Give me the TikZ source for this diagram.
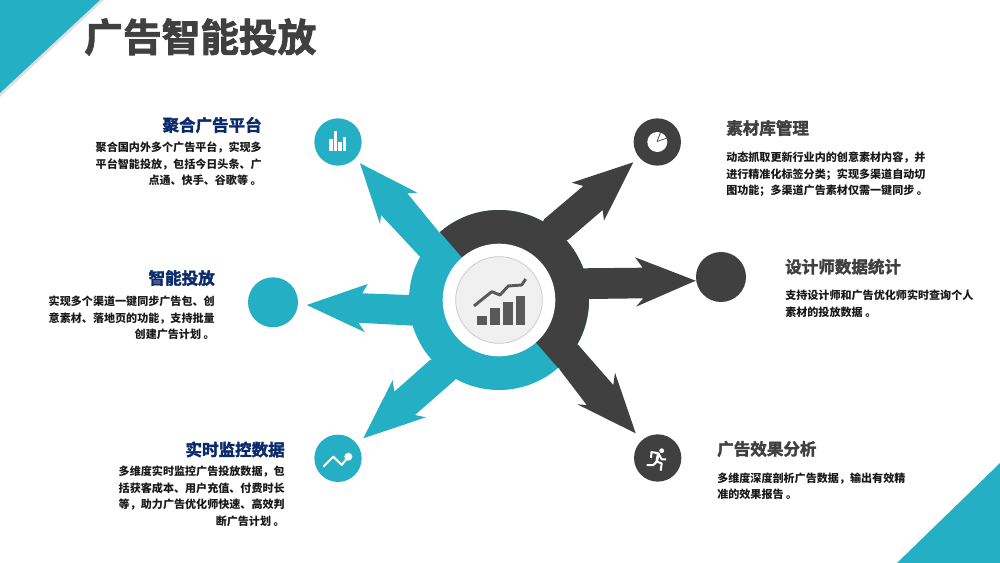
\documentclass[tikz,border=0pt]{standalone}
\usepackage{fontspec}
\newfontfamily\cjk{Noto Sans CJK SC}
\newfontfamily\cjkbold[FakeBold=2.2]{Noto Sans CJK SC Bold}
\usetikzlibrary{positioning}
\definecolor{adteal}{HTML}{25AFC5}
\definecolor{addark}{HTML}{404040}
\definecolor{adnavy}{HTML}{0B2A6B}
\tikzset{
    badge/.style={circle,minimum size=35.5pt,inner sep=0pt},
    blockhead/.style={inner sep=0pt,font=\cjkbold\fontsize{12.4}{14}\selectfont},
    blocktext/.style={inner sep=0pt,text=black!90,font=\cjk\bfseries\fontsize{8.3}{12.5}\selectfont},
    iconline/.style={white,line width=1.5pt,line join=round}
}
\begin{document}
\begin{tikzpicture}[x=0.75pt,y=-0.75pt]
    \useasboundingbox (0,0) rectangle (1000,563);
    \fill[black!12] (0,0) -- (104,0) -- (0,97) -- cycle;
    \fill[adteal] (0,0) -- (100,0) -- (0,93) -- cycle;
    \fill[adteal] (897,563) -- (1000,463) -- (1000,563) -- cycle;
    \node[right,inner sep=0pt,text=addark,font=\cjkbold\fontsize{29}{32}\selectfont] (title) at (84,37) {广告智能投放};

    \coordinate (hub) at (499,300);
    \fill[adteal] (hub) circle [radius=90];
    \begin{scope}
        \clip (420.3,209.4) -- (420,150) -- (700,150) -- (700,391) -- (577.7,390.6) -- cycle;
        \fill[addark] (hub) circle [radius=90];
    \end{scope}

    \fill[adteal] (360,163.3) -- (417.3,192.7) -- (407.3,193.3) -- (440,233.3) -- (470,300) -- (420,256.7) -- (381,215) -- (380,224) -- cycle;
    \fill[adteal] (306.7,305) -- (367.7,284) -- (362.3,293.3) -- (409.3,295) -- (440,310) -- (413.3,325.7) -- (358.3,322.7) -- (365,332.3) -- cycle;
    \fill[adteal] (363.3,438.3) -- (392.7,380) -- (394.3,391.7) -- (430,360) -- (470,350) -- (455,380) -- (415,415) -- (426,417.3) -- cycle;
    \fill[addark] (633.3,162.3) -- (571.7,182.7) -- (583.3,186) -- (544,219.3) -- (530,260) -- (568.7,239.3) -- (602.7,210) -- (604,220.7) -- cycle;
    \fill[addark] (695.7,280.7) -- (635,257.3) -- (642.7,267.7) -- (583.5,268.3) -- (560,285) -- (588.7,299) -- (643.3,298.3) -- (636,306.7) -- cycle;
    \fill[addark] (635.7,433.3) -- (615,372.7) -- (613.3,385) -- (578.3,345) -- (530,320) -- (560,370) -- (586.7,405) -- (577.3,404.3) -- cycle;

    \node[circle,fill=white,minimum size=84.5pt,inner sep=0pt] (hubwhite) at (hub) {};
    \node[circle,draw=black!20,fill=black!6,line width=0.6pt,minimum size=65pt,inner sep=0pt] (hubdisc) at (hub) {};
    \fill[black!65] (477.3,315.7) rectangle (487,325);
    \fill[black!65] (490,308.3) rectangle (500,325);
    \fill[black!65] (503.3,302.3) rectangle (513,325);
    \fill[black!65] (516,295.7) rectangle (525.3,325);
    \draw[black!65,line width=2.2pt,line join=round] (474,306) -- (491.7,291.7) -- (500,295) -- (508.3,286) -- (521.7,285) -- (525.7,279);

    \node[badge,fill=adteal] (platform) at (338,142) {};
    \node[badge,fill=adteal,minimum size=37.5pt] (smart) at (273,302.3) {};
    \node[badge,fill=adteal] (monitor) at (338,458.3) {};
    \node[badge,fill=addark] (library) at (657.3,142) {};
    \node[badge,fill=addark,minimum size=37.5pt] (designer) at (721,277) {};
    \node[badge,fill=addark] (effect) at (657.7,458) {};

    \fill[white] (329,139) rectangle (332.5,150.7);
    \fill[white] (333.5,131.5) rectangle (337,150.7);
    \fill[white] (338,142) rectangle (341.5,150.7);
    \fill[white] (342.5,137) rectangle (346,150.7);

    \fill[white] (library) circle [radius=10];
    \draw[addark,line width=0.5pt] (657,141.5) -- (661,131.5);
    \draw[addark,line width=0.5pt] (657,141.5) -- (667,138);

    \draw[iconline] (323.3,466.7) -- (333.3,456.7) -- (341.7,465) -- (348.3,456.7);
    \fill[white] (348.3,456.7) circle [radius=4];

    \fill[white] (661.7,450.7) circle [radius=2.4];
    \draw[iconline] (651,458) -- (651.5,452) -- (658.3,453.3) -- (661.7,459.3) -- (666,459.3);
    \draw[iconline,line width=2pt] (658.3,453.3) -- (656.7,461.7);
    \draw[iconline] (646.7,465) -- (653.3,465) -- (656.7,461.7) -- (661.7,463.3) -- (660.7,470.7);

    \node[blockhead,text=adnavy,anchor=east] (platformhead) at (262,125) {聚合广告平台};
    \node[blocktext,align=right,anchor=north east] (platformtext) at (262,141.5) {聚合国内外多个广告平台，实现多\\平台智能投放，包括今日头条、广\\点通、快手、谷歌等 。};
    \node[blockhead,text=adnavy,anchor=east] (smarthead) at (215,278) {智能投放};
    \node[blocktext,align=right,anchor=north east] (smarttext) at (215,295.5) {实现多个渠道一键同步广告包、创\\意素材、落地页的功能，支持批量\\创建广告计划 。};
    \node[blockhead,text=adnavy,anchor=east] (monitorhead) at (285,449.5) {实时监控数据};
    \node[blocktext,align=right,anchor=north east] (monitortext) at (285,465.5) {多维度实时监控广告投放数据，包\\括获客成本、用户充值、付费时长\\等，助力广告优化师快速、高效判\\断广告计划 。};
    \node[blockhead,text=addark,anchor=west] (libraryhead) at (726,128) {素材库管理};
    \node[blocktext,align=left,anchor=north west] (librarytext) at (726,151.5) {动态抓取更新行业内的创意素材内容，并\\进行精准化标签分类；实现多渠道自动切\\图功能；多渠道广告素材仅需一键同步 。};
    \node[blockhead,text=addark,anchor=west] (designerhead) at (785,266.7) {设计师数据统计};
    \node[blocktext,align=left,anchor=north west] (designertext) at (785,289.5) {支持设计师和广告优化师实时查询个人\\素材的投放数据 。};
    \node[blockhead,text=addark,anchor=west] (effecthead) at (717,449) {广告效果分析};
    \node[blocktext,align=left,anchor=north west] (effecttext) at (717,472.5) {多维度深度剖析广告数据，输出有效精\\准的效果报告 。};
\end{tikzpicture}
\end{document}
